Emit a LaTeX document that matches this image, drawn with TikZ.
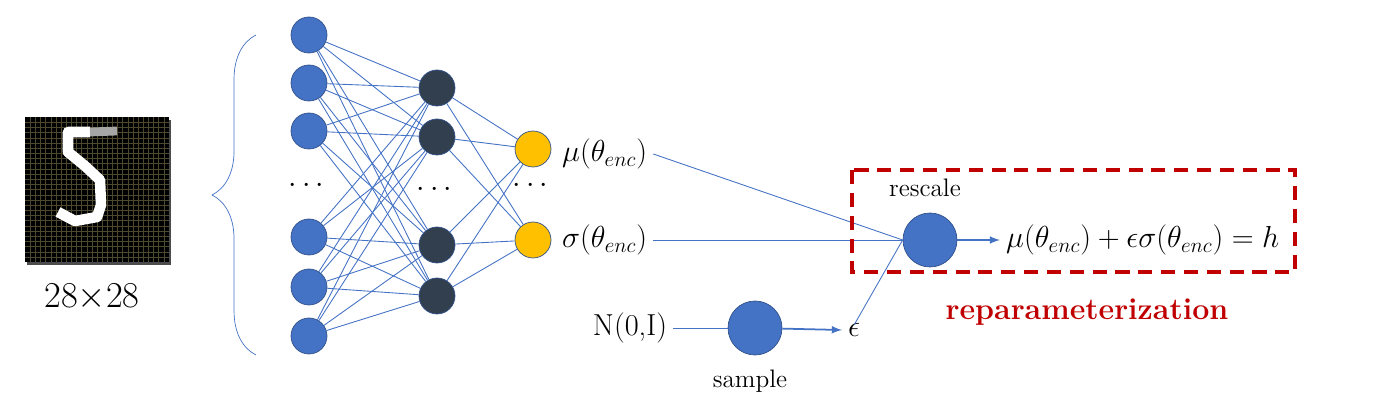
\documentclass[tikz,border=0pt]{standalone}
\usepackage{amsmath}
\usetikzlibrary{arrows.meta,decorations.pathreplacing,positioning}
\definecolor{nblue}{HTML}{4472C4}
\definecolor{ndark}{HTML}{323F4F}
\definecolor{nyel}{HTML}{FFC000}
\definecolor{rred}{HTML}{C00000}
\tikzset{
	>=latex,
	unit/.style = {circle, draw=nblue!70!black, fill=nblue, minimum size=0.72cm, inner sep=0pt},
	hid/.style = {unit, fill=ndark},
	outunit/.style = {unit, fill=nyel},
	big/.style = {unit, minimum size=1.08cm},
	wire/.style = {draw=nblue, line width=0.5pt},
	lbl/.style = {font=\LARGE}
}
\begin{document}
\begin{tikzpicture}[x=0.02cm,y=-0.02cm]
	\useasboundingbox (0,0) rectangle (1380,408);

	% input image
	\fill[black!70] (27,120) rectangle (171,265);
	\fill[black] (25,117) rectangle (169,262);
	\foreach \k in {1,...,27} {
		\draw[olive!40!black, line width=0.2pt] (25+\k*5.14,117) -- (25+\k*5.14,262);
		\draw[olive!40!black, line width=0.2pt] (25,117+\k*5.18) -- (169,117+\k*5.18);
	}
	\draw[white, line width=6pt, line join=round]
		(90,132) -- (68,132) -- (68,152) -- (85,166) -- (100,180) -- (101,205) -- (97,217) -- (75,221) -- (58,212);
	\draw[gray!70, line width=5pt] (90,132) -- (117,131);
	\node[font=\huge] (size) at (92,297) {28$\times$28};

	\draw[nblue, decorate, decoration={brace, amplitude=25pt}] (256,355) -- (256,35);

	% layers
	\foreach \y [count=\i] in {35,83,131,237,287,336}
		\node[unit] (a\i) at (309,\y) {};
	\foreach \y [count=\i] in {88,137,245,296}
		\node[hid] (b\i) at (437,\y) {};
	\node[outunit] (c1) at (533,149) {};
	\node[outunit] (c2) at (533,240) {};
	\node[lbl] (da) at (309,186) {$\cdots$};
	\node[lbl] (db) at (437,190) {$\cdots$};
	\node[lbl] (dc) at (533,186) {$\cdots$};
	\foreach \i in {1,...,6}
		\foreach \j in {1,...,4}
			\draw[wire] (a\i) -- (b\j);
	\foreach \j in {1,...,4}
		\foreach \k in {1,2}
			\draw[wire] (b\j) -- (c\k);

	\node[lbl, anchor=west] (mu) at (556,154) {$\mu(\theta_{enc})$};
	\node[lbl, anchor=west] (sig) at (556,240) {$\sigma(\theta_{enc})$};

	% reparameterization
	\node[big] (resc) at (930,240) {};
	\node[font=\Large] (rl) at (925,188) {rescale};
	\node[lbl] (noise) at (630,328) {N(0,I)};
	\node[big] (samp) at (755,328) {};
	\node[font=\Large] (sl) at (750,381) {sample};
	\node[lbl, anchor=west] (eps) at (842,330) {$\epsilon$};
	\node[lbl, anchor=west] (h) at (1000,240) {$\mu(\theta_{enc})+\epsilon\sigma(\theta_{enc})=h$};
	\draw[wire] (mu.east) -- (resc.west);
	\draw[wire] (sig.east) -- (resc.west);
	\coordinate (e0) at ([yshift=-0.15cm]eps.north);
	\draw[wire] (e0) -- (resc.west);
	\draw[wire] (noise) -- (samp);
	\draw[nblue, line width=1pt, ->] (samp) -- (eps.west);
	\draw[nblue, line width=1pt, ->] (resc) -- (h);
	\draw[rred, line width=2pt, dash pattern=on 8pt off 5pt] (852,170) rectangle (1295,272);
	\node[rred, font=\LARGE\bfseries] (rep) at (1087,312) {reparameterization};
\end{tikzpicture}
\end{document}
